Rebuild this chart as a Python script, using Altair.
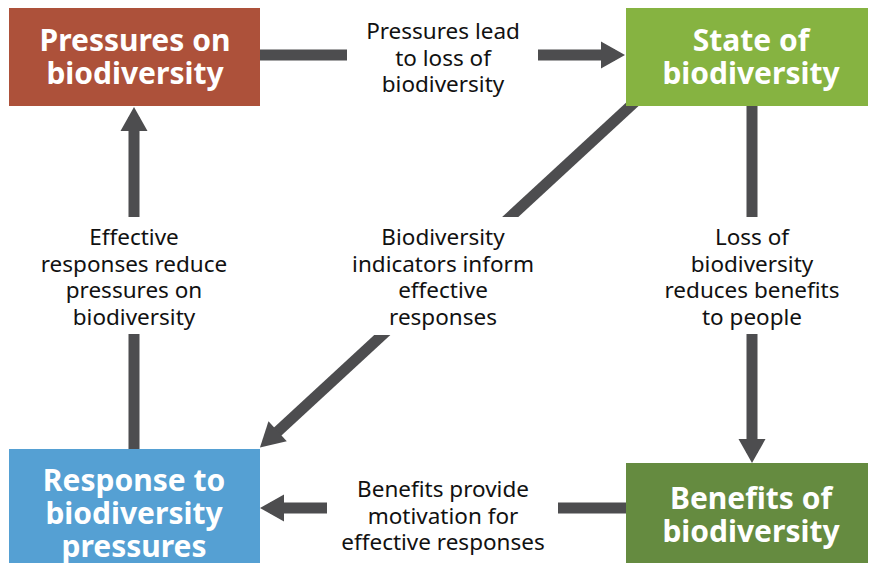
import altair as alt
import pandas as pd

# ---- canvas (pixel coordinates of the diagram) ----
W, H = 860, 555
X0, X1 = 8, 868
Y0, Y1 = 8, 563

BOX_LH = 33
LAB_LH = 26.7

# ---- boxes ----
box_names = ["Pressures on\nbiodiversity", "State of\nbiodiversity",
             "Response to\nbiodiversity\npressures", "Benefits of\nbiodiversity"]
box_x0 = [9, 626, 9, 626]
box_x1 = [260, 876, 260, 876]
box_y0 = [8, 8, 449, 463]
box_y1 = [106, 106, 568, 563]
box_tx = [135, 751, 134, 751]
box_ty = [42, 42, 482, 500]          # first-line centre
box_colors = ["#ad513a", "#86b341", "#55a0d3", "#658b40"]

# ---- link labels ----
label_texts = ["Pressures lead\nto loss of\nbiodiversity",
               "Effective\nresponses reduce\npressures on\nbiodiversity",
               "Biodiversity\nindicators inform\neffective\nresponses",
               "Loss of\nbiodiversity\nreduces benefits\nto people",
               "Benefits provide\nmotivation for\neffective responses"]
label_x = [443, 134, 443, 752, 443]
label_y = [32, 238, 238, 238, 490]   # first-line centre
gap_x0 = [347, 30, 340, 645, 327]
gap_x1 = [538, 240, 545, 858, 558]
gap_y0 = [14, 217, 217, 217, 470]
gap_y1 = [100, 334, 335, 334, 560]

# ---- arrows (shafts and heads) ----
shaft_x1 = [260, 752, 134, 626, 650]
shaft_y1 = [55, 106, 449, 508, 88]
shaft_x2 = [615, 752, 134, 270, 275]
shaft_y2 = [55, 453, 117, 508, 434]
head_x = [613, 752, 134, 272, 268.8]
head_y = [55, 451, 119, 508, 439.4]
head_angle = [0, 90, 270, 180, 137.3]

ARROW = "#4d4d4f"
HEAD_PATH = "M 0.89 0 L -0.89 -1 L -0.89 1 Z"
FONT = "Noto Sans"

boxes = pd.DataFrame({"name": box_names, "x0": box_x0, "x1": box_x1, "y0": box_y0,
                      "y1": box_y1, "tx": box_tx, "ty": box_ty, "color": box_colors})
labels = pd.DataFrame({"text": label_texts, "x": label_x, "y": label_y,
                       "gx0": gap_x0, "gx1": gap_x1, "gy0": gap_y0, "gy1": gap_y1})
shafts = pd.DataFrame({"x1": shaft_x1, "y1": shaft_y1, "x2": shaft_x2, "y2": shaft_y2})
heads = pd.DataFrame({"x": head_x, "y": head_y, "a": head_angle})

xs = alt.Scale(domain=[X0, X1], nice=False, zero=False)
ys = alt.Scale(domain=[Y0, Y1], nice=False, zero=False, reverse=True)

def X(f):
    return alt.X(f, type="quantitative", scale=xs, axis=None)

def Y(f):
    return alt.Y(f, type="quantitative", scale=ys, axis=None)

shaft_layer = alt.Chart(shafts).mark_rule(color=ARROW, strokeWidth=11, strokeCap="butt").encode(
    x=X("x1"), y=Y("y1"), x2="x2", y2="y2")

gap_layer = alt.Chart(labels).mark_rect(color="white").encode(
    x=X("gx0"), x2="gx1", y=Y("gy0"), y2="gy1")

head_layer = alt.Chart(heads).mark_point(shape=HEAD_PATH, filled=True, size=729,
                                         color=ARROW, opacity=1, strokeWidth=0).encode(
    x=X("x"), y=Y("y"), angle=alt.Angle("a", type="quantitative", scale=None))

box_layer = alt.Chart(boxes).mark_rect().encode(
    x=X("x0"), x2="x1", y=Y("y0"), y2="y1",
    color=alt.Color("color", type="nominal", scale=None))

box_text = alt.Chart(boxes).mark_text(font=FONT, fontWeight="bold", fontSize=30,
                                      lineHeight=BOX_LH, color="white", lineBreak="\n",
                                      align="center", baseline="middle").encode(
    x=X("tx"), y=Y("ty"), text="name")

label_text = alt.Chart(labels).mark_text(font=FONT, fontSize=22.5, lineHeight=LAB_LH,
                                         color="#111111", lineBreak="\n",
                                         align="center", baseline="middle").encode(
    x=X("x"), y=Y("y"), text="text")

chart = alt.layer(shaft_layer, gap_layer, head_layer, box_layer, box_text, label_text).properties(
    width=W, height=H, padding=0, autosize=alt.AutoSizeParams(type="none")
).configure_view(stroke=None)

chart.save("out.html", embed_options={"renderer": "svg", "actions": False})
